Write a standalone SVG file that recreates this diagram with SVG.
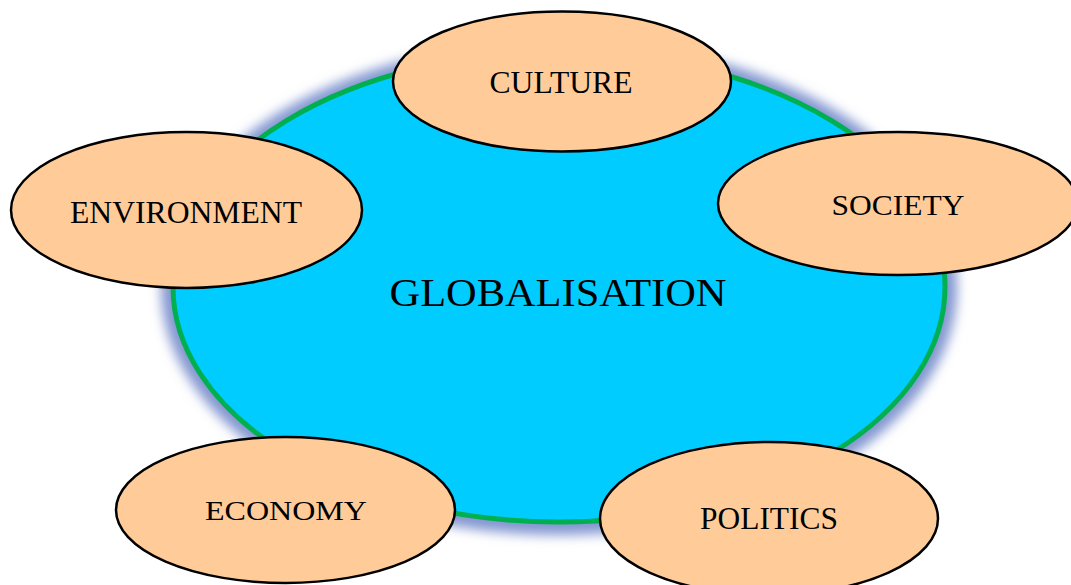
<svg xmlns="http://www.w3.org/2000/svg" width="1071" height="585" viewBox="0 0 1071 585">
<defs>
<style>
.n{fill:#FFCC99;stroke:#000;stroke-width:2.5}
.t{font-family:"Liberation Serif","Times New Roman",serif;fill:#000;text-anchor:middle}
</style>
<filter id="glow" x="-20%" y="-20%" width="140%" height="140%">
<feGaussianBlur stdDeviation="6"/>
</filter>
</defs>
<rect width="1071" height="585" fill="#fff"/>
<g id="globalisation">
<ellipse cx="559" cy="288" rx="398" ry="247" fill="#8397D0" filter="url(#glow)"/>
<ellipse cx="559" cy="287" rx="386" ry="235" fill="#00CCFF" stroke="#00B050" stroke-width="5"/>
<text class="t" x="558" y="306" font-size="41" textLength="337" lengthAdjust="spacingAndGlyphs">GLOBALISATION</text>
</g>
<g id="connectors"></g>
<g id="culture">
<ellipse class="n" cx="562" cy="81.5" rx="169" ry="70"/>
<text class="t" x="561" y="93" font-size="31" textLength="143" lengthAdjust="spacingAndGlyphs">CULTURE</text>
</g>
<g id="society">
<ellipse class="n" cx="898" cy="203.5" rx="180" ry="71.5"/>
<text class="t" x="898" y="215" font-size="30" textLength="133" lengthAdjust="spacingAndGlyphs">SOCIETY</text>
</g>
<g id="environment">
<ellipse class="n" cx="186.5" cy="210" rx="175.5" ry="78"/>
<text class="t" x="186" y="223" font-size="31" textLength="232" lengthAdjust="spacingAndGlyphs">ENVIRONMENT</text>
</g>
<g id="economy">
<ellipse class="n" cx="285.5" cy="510" rx="169.5" ry="73"/>
<text class="t" x="286" y="520" font-size="28" textLength="162" lengthAdjust="spacingAndGlyphs">ECONOMY</text>
</g>
<g id="politics">
<ellipse class="n" cx="769" cy="518.5" rx="169" ry="76.5"/>
<text class="t" x="769" y="529" font-size="31" textLength="138" lengthAdjust="spacingAndGlyphs">POLITICS</text>
</g>
</svg>
